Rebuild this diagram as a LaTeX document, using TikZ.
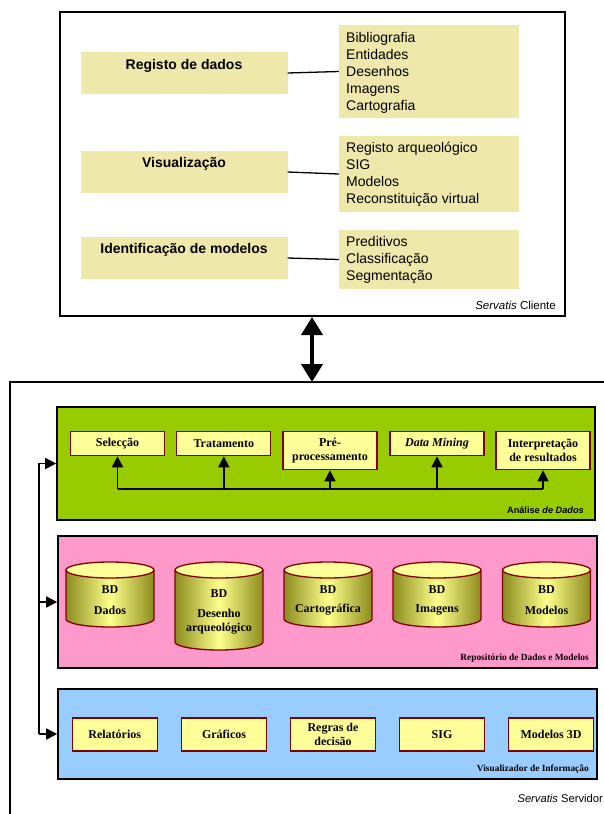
\documentclass[tikz,border=0pt]{standalone}
\usepackage{fontspec}
\setmainfont{Liberation Serif}
\setsansfont{Liberation Sans}
\usetikzlibrary{arrows.meta}

\definecolor{topfill}{RGB}{238,232,170}
\definecolor{anagreen}{RGB}{153,204,0}
\definecolor{repopink}{RGB}{255,153,204}
\definecolor{visblue}{RGB}{153,204,255}
\definecolor{itemfill}{RGB}{255,255,153}
\definecolor{itemline}{RGB}{128,0,0}
\definecolor{cylside}{RGB}{140,140,30}
\definecolor{cylmid}{RGB}{255,255,140}

\tikzset{
  topbox/.style={fill=topfill, draw=none, inner sep=0pt},
  toplabel/.style={font=\sffamily\bfseries\fontsize{14}{16}\selectfont},
  toplist/.style={font=\sffamily\fontsize{14}{17}\selectfont, align=left, anchor=west, inner sep=0pt},
  link/.style={line width=1.3pt},
  panel/.style={draw=black, line width=1.6pt, inner sep=0pt},
  itembox/.style={draw=itemline, fill=itemfill, line width=1.3pt, inner sep=0pt,
    font=\bfseries\fontsize{12}{14}\selectfont, align=center},
  paneltag/.style={anchor=east, inner sep=0pt},
  smallarrow/.style={line width=1.6pt, -{Triangle[length=11pt,width=11pt]}},
  cyltext/.style={font=\bfseries\fontsize{12}{14}\selectfont, align=center},
}

% cylinder: #1 centre x, #2 lower ellipse centre y, #3 name
\newcommand{\dbcyl}[3]{%
  \shade[left color=cylside, right color=cylside, middle color=cylmid]
    (#1-44,570) -- (#1-44,#2) arc[start angle=180, end angle=360, x radius=44pt, y radius=8pt]
    -- (#1+44,570) -- cycle;
  \draw[itemline, line width=1.3pt]
    (#1-44,570) -- (#1-44,#2) arc[start angle=180, end angle=360, x radius=44pt, y radius=8pt]
    -- (#1+44,570);
  \draw[itemline, fill=itemfill, line width=1.3pt] (#1,570) ellipse[x radius=44pt, y radius=8pt];
  \coordinate (#3) at (#1,570);
}

\begin{document}
\begin{tikzpicture}[x=1pt, y=-1pt]
\useasboundingbox (0,0) rectangle (604,814);
\fill[white] (0,0) rectangle (604,814);

% ---------------- client ----------------
\node[draw=black, line width=2pt, minimum width=505pt, minimum height=304pt, inner sep=0pt]
  (client) at (312.5,164) {};

\node[topbox, minimum width=207pt, minimum height=42pt] (rd) at (184,73) {};
\node[toplabel] at (184,66) {Registo de dados};
\node[topbox, minimum width=180pt, minimum height=93pt] (rdl) at (429,71.5) {};
\node[toplist] at (346,72.5) {Bibliografia\\Entidades\\Desenhos\\Imagens\\Cartografia};

\node[topbox, minimum width=207pt, minimum height=42pt] (vis) at (184,172) {};
\node[toplabel] at (184,164) {Visualização};
\node[topbox, minimum width=180pt, minimum height=76pt] (visl) at (429,174) {};
\node[toplist] at (346,174.5) {Registo arqueológico\\SIG\\Modelos\\Reconstituição virtual};

\node[topbox, minimum width=207pt, minimum height=42pt] (idm) at (184,258) {};
\node[toplabel] at (184,250) {Identificação de modelos};
\node[topbox, minimum width=180pt, minimum height=59pt] (idml) at (429,259.5) {};
\node[toplist] at (346,260) {Preditivos\\Classificação\\Segmentação};

\draw[link] (rd.east) -- (rdl.west);
\draw[link] (vis.east) -- (visl.west);
\draw[link] (idm.east) -- (idml.west);

\node[paneltag, font=\sffamily\fontsize{11.5}{13}\selectfont] (cliname) at (556,305)
  {\textit{Servatis} Cliente};

% ---------------- server ----------------
\draw[line width=1.5pt] (10,814) -- (10,382) -- (604,382);
\coordinate (srvtop) at (312,382);
\draw[line width=4pt, {Triangle[length=18pt,width=21pt]}-{Triangle[length=18pt,width=21pt]}]
  (client.south -| srvtop) -- (srvtop);
\node[paneltag, font=\sffamily\fontsize{11.2}{13}\selectfont] (srvname) at (603,798)
  {\textit{Servatis} Servidor};

% data analysis panel
\node[panel, fill=anagreen, minimum width=538pt, minimum height=113pt] (ana) at (326,463.5) {};
\node[itembox, anchor=north, minimum width=94pt, minimum height=24pt] (sel) at (117.5,431) {Selecção};
\node[itembox, anchor=north, minimum width=94pt, minimum height=24pt] (trat) at (223.8,431) {Tratamento};
\node[itembox, anchor=north, minimum width=94pt, minimum height=38pt] (pre) at (330,431) {Pré-\\processamento};
\node[itembox, anchor=north, minimum width=94pt, minimum height=24pt] (dm) at (437,431) {\textit{Data Mining}};
\node[itembox, anchor=north, minimum width=94pt, minimum height=38pt] (interp) at (543,431) {Interpretação\\de resultados};
\coordinate (bus) at (0,489);
\draw[line width=1.6pt] (sel.south |- bus) -- (interp.south |- bus);
\foreach \b in {sel,trat,pre,dm,interp}
  \draw[smallarrow] (\b.south |- bus) -- (\b.south);
\node[paneltag, font=\sffamily\bfseries\fontsize{9.2}{11}\selectfont] at (584,510)
  {Análise \textit{de Dados}};

% repository panel
\node[panel, fill=repopink, minimum width=539pt, minimum height=132pt] (repo) at (327.5,602) {};
\dbcyl{110}{619}{cdados}
\dbcyl{219}{642}{cdes}
\dbcyl{328}{619}{ccart}
\dbcyl{437}{619}{cimg}
\dbcyl{546.5}{619}{cmod}
\node[cyltext] at (110,590) {BD};
\node[cyltext] at (110,610) {Dados};
\node[cyltext] at (219,594) {BD};
\node[cyltext] at (219,622) {Desenho\\arqueológico};
\node[cyltext] at (328,590) {BD};
\node[cyltext] at (328,610) {Cartográfica};
\node[cyltext] at (437,590) {BD};
\node[cyltext] at (437,610) {Imagens};
\node[cyltext] at (546.5,590) {BD};
\node[cyltext] at (546.5,610) {Modelos};
\node[paneltag, font=\bfseries\fontsize{9.4}{11}\selectfont] at (589,658)
  {Repositório de Dados e Modelos};

% information viewer panel
\node[panel, fill=visblue, minimum width=539pt, minimum height=90pt] (viewer) at (327.5,734) {};
\node[itembox, minimum width=85pt, minimum height=33pt] (rel) at (114.7,734.5) {Relatórios};
\node[itembox, minimum width=85pt, minimum height=33pt] (graf) at (224,734.5) {Gráficos};
\node[itembox, minimum width=85pt, minimum height=33pt] (regras) at (333,734.5) {Regras de\\decisão};
\node[itembox, minimum width=85pt, minimum height=33pt] (sig) at (442,734.5) {SIG};
\node[itembox, minimum width=85pt, minimum height=33pt] (m3d) at (551,734.5) {Modelos 3D};
\node[paneltag, font=\bfseries\fontsize{9.4}{11}\selectfont] at (589,769)
  {Visualizador de Informação};

% feed line to the three panels
\coordinate (fa) at (39,463.5);
\coordinate (fr) at (39,602);
\coordinate (fv) at (39,734);
\draw[smallarrow] (fv) -- (fa) -- (ana.west);
\draw[smallarrow] (fr) -- (repo.west);
\draw[smallarrow] (fv) -- (viewer.west);
\end{tikzpicture}
\end{document}
